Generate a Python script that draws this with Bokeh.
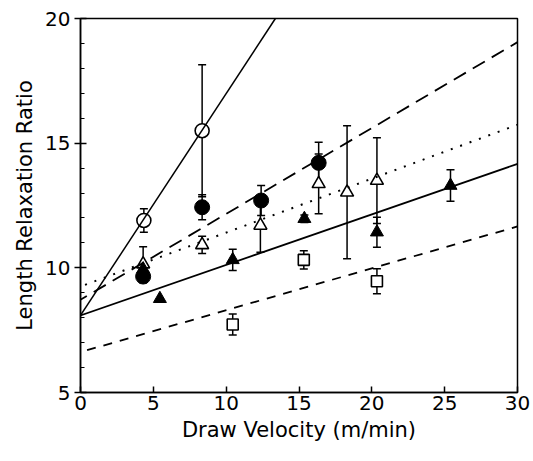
from bokeh.plotting import figure
from bokeh.models import ColumnDataSource, Whisker, TeeHead, Slope, FixedTicker, Range1d
from bokeh.embed import file_html
from bokeh.resources import INLINE

# --- data -------------------------------------------------------------
oc_x = [4.35, 8.35]
oc_y = [11.9, 15.5]
oc_e = [0.47, 2.65]

fc_x = [4.3, 8.35, 12.4, 16.35]
fc_y = [9.65, 12.43, 12.7, 14.21]
fc_e = [0.25, 0.5, 0.6, 0.83]

ot_x = [4.3, 8.35, 12.35, 16.35, 18.3, 20.35]
ot_y = [10.15, 10.92, 11.7, 13.37, 13.03, 13.5]
ot_e = [0.7, 0.35, 1.07, 1.2, 2.67, 1.72]

ft_x = [4.3, 5.45, 10.45, 15.37, 20.35, 25.4]
ft_y = [9.95, 8.76, 10.32, 11.97, 11.43, 13.3]
ft_e = [0.0, 0.0, 0.43, 0.15, 0.6, 0.63]

os_x = [10.45, 15.33, 20.35]
os_y = [7.73, 10.32, 9.46]
os_e = [0.42, 0.37, 0.5]

# fitted lines: intercept at 0 and value at 30 (steep line: value at 13.38 = 20)
steep_b, steep_x1, steep_y1 = 8.09, 13.38, 20.0
ldash_b, ldash_y30 = 8.72, 19.05
dot_b, dot_y30 = 9.25, 15.74
solid_b, solid_y30 = 8.09, 14.17
sdash_b, sdash_y30 = 6.62, 11.66

FONT = "DejaVu Sans"

p = figure(width=533, height=461, frame_width=437, frame_height=374,
           min_border_left=80, min_border_right=16, min_border_top=18, min_border_bottom=69,
           x_range=Range1d(0, 30), y_range=Range1d(5, 20),
           output_backend="svg", toolbar_location=None, tools="")
p.outline_line_color = "black"
p.outline_line_width = 1.5
p.grid.visible = False
p.background_fill_color = "white"
p.border_fill_color = "white"

def add_err(x, y, e):
    lo = [a - b for a, b in zip(y, e)]
    hi = [a + b for a, b in zip(y, e)]
    src = ColumnDataSource(dict(x=x, lo=lo, hi=hi))
    w = Whisker(source=src, base="x", lower="lo", upper="hi", dimension="height",
                line_color="black", line_width=1.5,
                upper_head=TeeHead(size=8, line_color="black", line_width=1.5),
                lower_head=TeeHead(size=8, line_color="black", line_width=1.5))
    p.add_layout(w)

# lines
p.add_layout(Slope(gradient=(steep_y1 - steep_b) / steep_x1, y_intercept=steep_b,
                   line_color="black", line_width=1.5))
p.add_layout(Slope(gradient=(ldash_y30 - ldash_b) / 30, y_intercept=ldash_b,
                   line_color="black", line_width=1.8, line_dash="14 8"))
p.add_layout(Slope(gradient=(dot_y30 - dot_b) / 30, y_intercept=dot_b,
                   line_color="black", line_width=2, line_dash="2 8"))
p.add_layout(Slope(gradient=(solid_y30 - solid_b) / 30, y_intercept=solid_b,
                   line_color="black", line_width=1.8))
p.add_layout(Slope(gradient=(sdash_y30 - sdash_b) / 30, y_intercept=sdash_b,
                   line_color="black", line_width=1.8, line_dash="9 8"))

for xs, ys, es in [(oc_x, oc_y, oc_e), (fc_x, fc_y, fc_e), (ot_x, ot_y, ot_e),
                   (ft_x, ft_y, ft_e), (os_x, os_y, os_e)]:
    add_err(xs, ys, es)

p.scatter(oc_x, oc_y, marker="circle", size=14, fill_color="white", line_color="black", line_width=1.6)
p.scatter(fc_x, fc_y, marker="circle", size=15, fill_color="black", line_color="black")
p.scatter(ot_x, ot_y, marker="triangle", size=13, fill_color="white", line_color="black", line_width=1.6)
p.scatter(ft_x, ft_y, marker="triangle", size=13, fill_color="black", line_color="black")
p.scatter(os_x, os_y, marker="square", size=11, fill_color="white", line_color="black", line_width=1.6)

# axes
p.xaxis.ticker = FixedTicker(ticks=[0, 5, 10, 15, 20, 25, 30])
p.yaxis.ticker = FixedTicker(ticks=[5, 10, 15, 20], minor_ticks=list(range(5, 21)))
for ax in (p.xaxis[0], p.yaxis[0]):
    ax.axis_line_width = 1.5
    ax.axis_line_color = "black"
    ax.major_tick_line_width = 1.5
    ax.major_tick_line_color = "black"
    ax.major_label_text_font = FONT
    ax.major_label_text_font_size = "20px"
    ax.major_label_text_color = "black"
    ax.axis_label_text_font = FONT
    ax.axis_label_text_font_size = "21px"
    ax.axis_label_text_font_style = "normal"
    ax.axis_label_text_color = "black"
p.xaxis.major_tick_in = 6
p.xaxis.major_tick_out = 0
p.xaxis.minor_tick_line_color = None
p.yaxis.major_tick_in = 6
p.yaxis.major_tick_out = 6
p.yaxis.minor_tick_in = 4
p.yaxis.minor_tick_out = 0
p.yaxis.minor_tick_line_color = "black"
p.yaxis.minor_tick_line_width = 1.2
p.xaxis.axis_label = "Draw Velocity (m/min)"
p.yaxis.axis_label = "Length Relaxation Ratio"
p.xaxis.major_label_standoff = 3
p.yaxis.major_label_standoff = 4
p.xaxis.axis_label_standoff = 5
p.yaxis.axis_label_standoff = 5

open("out.html", "w").write(file_html(p, INLINE))
